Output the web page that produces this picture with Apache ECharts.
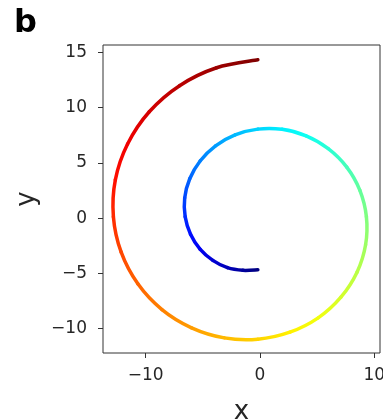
<!DOCTYPE html>
<html>
<head>
<meta charset="utf-8">
<script src="https://cdn.jsdelivr.net/npm/echarts@6/dist/echarts.min.js"></script>
<style>
  html, body { margin: 0; padding: 0; background: #fff; }
  #main { width: 383px; height: 419px; }
</style>
</head>
<body>
<div id="main"></div>
<script>
// spiral, in drawing order (about every 15 degrees of turn)
var xVals = [-0.19, -1.50, -2.85, -4.13, -5.25, -6.08, -6.55, -6.59, -6.15, -5.24, -3.89, -2.18, -0.19,
  1.93, 4.04, 5.97, 7.59, 8.74, 9.31, 9.24, 8.49, 7.08, 5.09, 2.61, -0.19,
  -3.12, -5.99, -8.58, -10.69, -12.15, -12.83, -12.66, -11.59, -9.69, -7.04, -3.80, -0.19];
var yVals = [-4.67, -4.72, -4.48, -3.82, -2.80, -1.46, 0.12, 1.83, 3.56, 5.17, 6.54, 7.53, 8.05,
  8.03, 7.44, 6.28, 4.61, 2.51, 0.12, -2.41, -4.89, -7.15, -9.02, -10.32, -10.95,
  -10.83, -9.92, -8.27, -5.94, -3.08, 0.12, 3.46, 6.70, 9.62, 11.98, 13.60, 14.32];
// colour parameter (0..1 on the jet map), estimated from the colours
var tVals = [0, 0.028, 0.056, 0.083, 0.111, 0.139, 0.167, 0.194, 0.222, 0.25, 0.278, 0.306, 0.333,
  0.361, 0.389, 0.417, 0.444, 0.472, 0.5, 0.528, 0.556, 0.583, 0.611, 0.639, 0.667,
  0.694, 0.722, 0.75, 0.778, 0.806, 0.833, 0.861, 0.889, 0.917, 0.944, 0.972, 1];

var xTicks = [-10, 0, 10];
var yTicks = [-10, -5, 0, 5, 10, 15];

function clamp(v) { return Math.max(0, Math.min(1, v)); }
function jet(t) {
  var r = clamp(1.5 - Math.abs(4 * t - 3));
  var g = clamp(1.5 - Math.abs(4 * t - 2));
  var b = clamp(1.5 - Math.abs(4 * t - 1));
  return 'rgb(' + Math.round(r * 255) + ',' + Math.round(g * 255) + ',' + Math.round(b * 255) + ')';
}

function minus(v) { return String(v).replace('-', '\u2212'); }

var chart = echarts.init(document.getElementById('main'));
var n = xVals.length;

function renderSeg(params, api) {
  var i = params.dataIndex;
  if (i >= n - 1) return null;
  var p0 = api.coord([xVals[Math.max(i - 1, 0)], yVals[Math.max(i - 1, 0)]]);
  var p1 = api.coord([xVals[i], yVals[i]]);
  var p2 = api.coord([xVals[i + 1], yVals[i + 1]]);
  var p3 = api.coord([xVals[Math.min(i + 2, n - 1)], yVals[Math.min(i + 2, n - 1)]]);
  var grad = new echarts.graphic.LinearGradient(p1[0], p1[1], p2[0], p2[1], [
    { offset: 0, color: jet(tVals[i]) },
    { offset: 1, color: jet(tVals[i + 1]) }
  ], true);
  return {
    type: 'bezierCurve',
    shape: {
      x1: p1[0], y1: p1[1], x2: p2[0], y2: p2[1],
      cpx1: p1[0] + (p2[0] - p0[0]) / 6, cpy1: p1[1] + (p2[1] - p0[1]) / 6,
      cpx2: p2[0] - (p3[0] - p1[0]) / 6, cpy2: p2[1] - (p3[1] - p1[1]) / 6
    },
    style: { stroke: grad, fill: null, lineWidth: 3.5, lineCap: 'round' }
  };
}

var axisText = { color: '#262626', fontSize: 17, fontFamily: 'DejaVu Sans' };

var option = {
  animation: false,
  backgroundColor: '#fff',
  title: {
    text: 'b', left: 9, top: 3,
    textStyle: { fontSize: 32, fontWeight: 'bold', fontFamily: 'DejaVu Sans', color: '#000' }
  },
  grid: {
    left: 103, top: 45, width: 277, height: 308,
    containLabel: false, outerBoundsMode: 'none',
    show: true, borderColor: '#333', borderWidth: 1
  },
  xAxis: {
    type: 'value', min: -13.74, max: 10.5,
    name: 'x', nameLocation: 'middle', nameGap: 46,
    nameTextStyle: { fontSize: 26, fontFamily: 'DejaVu Sans', color: '#262626' },
    splitLine: { show: false },
    axisLine: { show: false, onZero: false },
    axisTick: { show: true, length: 5, customValues: xTicks, lineStyle: { color: '#333' } },
    axisLabel: Object.assign({ margin: 14, customValues: xTicks, formatter: minus }, axisText)
  },
  yAxis: {
    type: 'value', min: -12.2, max: 15.66,
    name: 'y', nameLocation: 'middle', nameGap: 63, nameRotate: 90,
    nameTextStyle: { fontSize: 26, fontFamily: 'DejaVu Sans', color: '#262626' },
    splitLine: { show: false },
    axisLine: { show: false, onZero: false },
    axisTick: { show: true, length: 5, customValues: yTicks, lineStyle: { color: '#333' } },
    axisLabel: Object.assign({ margin: 16, customValues: yTicks, formatter: minus }, axisText)
  },
  series: [{
    type: 'custom',
    renderItem: renderSeg,
    encode: { x: 0, y: 1 },
    data: xVals.map(function (x, i) { return [x, yVals[i], tVals[i]]; })
  }]
};

chart.setOption(option);
</script>
</body>
</html>
